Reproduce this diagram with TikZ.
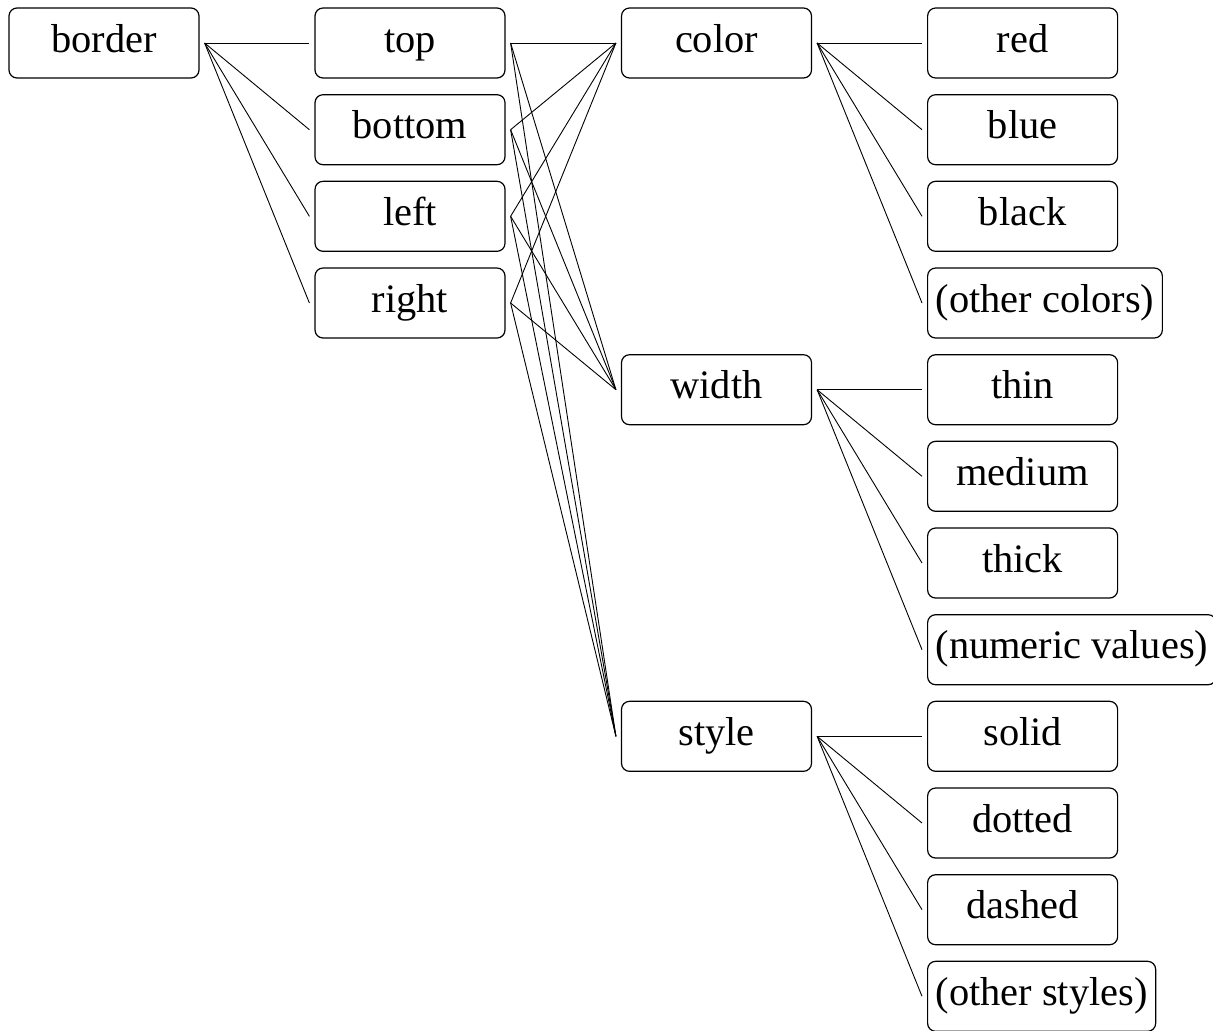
\documentclass[tikz,border=0pt]{standalone}
\usepackage{fontspec}
\setmainfont{Liberation Serif}
\begin{document}
\begin{tikzpicture}[x=0.5pt,y=-0.5pt,
	item/.style={draw,rounded corners=4pt,minimum width=95pt,minimum height=35pt,inner xsep=4pt,text height=13.5pt,text depth=4.5pt,line width=0.6pt,font=\fontsize{20.2}{24}\selectfont},
	link/.style={line width=0.45pt}]
		\useasboundingbox (0,0) rectangle (1213,1030);
		
		%root
		\node[item](border) at (104,43) {border};
		%sides
		\node[item](top) at (410,43) {top};
		\node[item](bottom) at (410,129.7) {bottom};
		\node[item](leftside) at (410,216.3) {left};
		\node[item](rightside) at (410,303) {right};
		%properties
		\node[item](color) at (716.5,43) {color};
		\node[item](width) at (716.5,389.7) {width};
		\node[item](style) at (716.5,736.3) {style};
		%values
		\node[item,anchor=west](red) at (927,43) {red};
		\node[item,anchor=west](blue) at (927,129.7) {blue};
		\node[item,anchor=west](black) at (927,216.3) {black};
		\node[item,anchor=west](othercolors) at (927,303) {(other colors)};
		\node[item,anchor=west](thin) at (927,389.7) {thin};
		\node[item,anchor=west](medium) at (927,476.3) {medium};
		\node[item,anchor=west](thick) at (927,563) {thick};
		\node[item,anchor=west](numeric) at (927,649.7) {(numeric values)};
		\node[item,anchor=west](solid) at (927,736.3) {solid};
		\node[item,anchor=west](dotted) at (927,823) {dotted};
		\node[item,anchor=west](dashed) at (927,909.7) {dashed};
		\node[item,anchor=west](otherstyles) at (927,996.3) {(other styles)};
		
		%border to sides
		\draw[link] ([xshift=2.5pt]border.east) -- ([xshift=-2.5pt]top.west);
		\draw[link] ([xshift=2.5pt]border.east) -- ([xshift=-2.5pt]bottom.west);
		\draw[link] ([xshift=2.5pt]border.east) -- ([xshift=-2.5pt]leftside.west);
		\draw[link] ([xshift=2.5pt]border.east) -- ([xshift=-2.5pt]rightside.west);
		%sides to properties
		\draw[link] ([xshift=2.5pt]top.east) -- ([xshift=-2.5pt]color.west);
		\draw[link] ([xshift=2.5pt]top.east) -- ([xshift=-2.5pt]width.west);
		\draw[link] ([xshift=2.5pt]top.east) -- ([xshift=-2.5pt]style.west);
		\draw[link] ([xshift=2.5pt]bottom.east) -- ([xshift=-2.5pt]color.west);
		\draw[link] ([xshift=2.5pt]bottom.east) -- ([xshift=-2.5pt]width.west);
		\draw[link] ([xshift=2.5pt]bottom.east) -- ([xshift=-2.5pt]style.west);
		\draw[link] ([xshift=2.5pt]leftside.east) -- ([xshift=-2.5pt]color.west);
		\draw[link] ([xshift=2.5pt]leftside.east) -- ([xshift=-2.5pt]width.west);
		\draw[link] ([xshift=2.5pt]leftside.east) -- ([xshift=-2.5pt]style.west);
		\draw[link] ([xshift=2.5pt]rightside.east) -- ([xshift=-2.5pt]color.west);
		\draw[link] ([xshift=2.5pt]rightside.east) -- ([xshift=-2.5pt]width.west);
		\draw[link] ([xshift=2.5pt]rightside.east) -- ([xshift=-2.5pt]style.west);
		%color values
		\draw[link] ([xshift=2.5pt]color.east) -- ([xshift=-2.5pt]red.west);
		\draw[link] ([xshift=2.5pt]color.east) -- ([xshift=-2.5pt]blue.west);
		\draw[link] ([xshift=2.5pt]color.east) -- ([xshift=-2.5pt]black.west);
		\draw[link] ([xshift=2.5pt]color.east) -- ([xshift=-2.5pt]othercolors.west);
		%width values
		\draw[link] ([xshift=2.5pt]width.east) -- ([xshift=-2.5pt]thin.west);
		\draw[link] ([xshift=2.5pt]width.east) -- ([xshift=-2.5pt]medium.west);
		\draw[link] ([xshift=2.5pt]width.east) -- ([xshift=-2.5pt]thick.west);
		\draw[link] ([xshift=2.5pt]width.east) -- ([xshift=-2.5pt]numeric.west);
		%style values
		\draw[link] ([xshift=2.5pt]style.east) -- ([xshift=-2.5pt]solid.west);
		\draw[link] ([xshift=2.5pt]style.east) -- ([xshift=-2.5pt]dotted.west);
		\draw[link] ([xshift=2.5pt]style.east) -- ([xshift=-2.5pt]dashed.west);
		\draw[link] ([xshift=2.5pt]style.east) -- ([xshift=-2.5pt]otherstyles.west);
\end{tikzpicture}
\end{document}
